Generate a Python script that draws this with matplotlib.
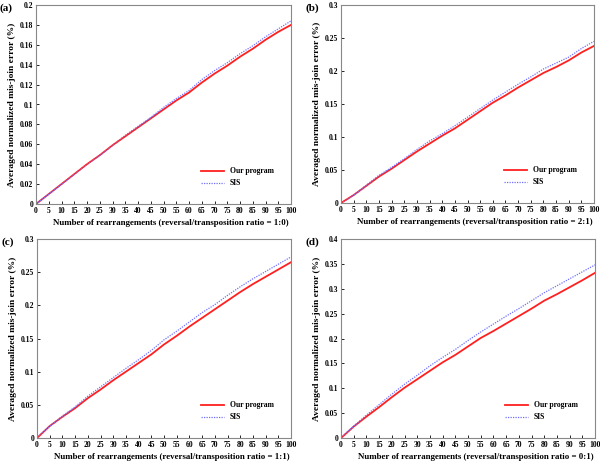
import matplotlib.pyplot as plt
import numpy as np
from matplotlib.ticker import FuncFormatter

plt.rcParams['font.family'] = ['Liberation Serif', 'DejaVu Serif']
plt.rcParams['font.weight'] = 'bold'

x = list(range(0, 101, 5))

# panel (a) ratio 1:0
ours_a = [0, 0.010, 0.020, 0.030, 0.040, 0.049, 0.059, 0.068, 0.077, 0.086, 0.095,
          0.104, 0.112, 0.122, 0.131, 0.139, 0.148, 0.156, 0.165, 0.173, 0.180]
sis_a = [0, 0.010, 0.020, 0.030, 0.040, 0.049, 0.059, 0.069, 0.078, 0.087, 0.097,
         0.106, 0.114, 0.125, 0.134, 0.142, 0.151, 0.159, 0.168, 0.176, 0.184]
# panel (b) ratio 2:1
ours_b = [0, 0.012, 0.026, 0.040, 0.052, 0.065, 0.078, 0.090, 0.102, 0.113, 0.126,
          0.139, 0.152, 0.163, 0.175, 0.186, 0.197, 0.206, 0.216, 0.228, 0.238]
sis_b = [0, 0.012, 0.027, 0.042, 0.054, 0.067, 0.081, 0.094, 0.105, 0.117, 0.130,
         0.143, 0.156, 0.168, 0.180, 0.191, 0.203, 0.212, 0.221, 0.234, 0.245]
# panel (c) ratio 1:1
ours_c = [0, 0.018, 0.032, 0.045, 0.060, 0.073, 0.087, 0.100, 0.113, 0.126, 0.141,
          0.154, 0.168, 0.181, 0.194, 0.207, 0.220, 0.232, 0.243, 0.254, 0.265]
sis_c = [0, 0.018, 0.033, 0.047, 0.063, 0.077, 0.091, 0.105, 0.118, 0.132, 0.148,
         0.161, 0.175, 0.189, 0.201, 0.215, 0.228, 0.240, 0.251, 0.262, 0.273]
# panel (d) ratio 0:1
ours_d = [0, 0.023, 0.043, 0.062, 0.082, 0.101, 0.118, 0.135, 0.152, 0.167, 0.184,
          0.201, 0.215, 0.230, 0.245, 0.260, 0.276, 0.289, 0.303, 0.317, 0.332]
sis_d = [0, 0.024, 0.046, 0.067, 0.088, 0.108, 0.126, 0.145, 0.162, 0.178, 0.196,
         0.213, 0.229, 0.245, 0.260, 0.276, 0.292, 0.306, 0.320, 0.334, 0.348]

panels = [
    ('(a)', '1:0', ours_a, sis_a, 0.2, 0.02, (36, 5, 291, 204)),
    ('(b)', '2:1', ours_b, sis_b, 0.3, 0.05, (341, 5, 594, 203)),
    ('(c)', '1:1', ours_c, sis_c, 0.3, 0.05, (37, 239, 291, 438)),
    ('(d)', '0:1', ours_d, sis_d, 0.4, 0.05, (341, 239, 595, 438)),
]

W, H = 600, 461
fig = plt.figure(figsize=(6, 4.61), dpi=100)

for letter, ratio, ours, sis, ymax, ystep, (l, t, r, b) in panels:
    ax = fig.add_axes([l / W, 1 - b / H, (r - l) / W, (b - t) / H])
    ax.plot(x, ours, color='#ff1f1f', lw=1.3, label='Our program')
    ax.plot(x, sis, color='#7070ff', lw=0.9, ls=(0, (1, 1)), label='SIS')
    ax.set_xlim(0, 100)
    ax.set_ylim(0, ymax)
    ax.set_xticks(range(0, 101, 5))
    ax.set_yticks(np.arange(0, ymax + ystep / 2, ystep))
    ax.yaxis.set_major_formatter(FuncFormatter(lambda v, p: '%g' % round(v, 3)))
    ax.tick_params(labelsize=5.5, length=2, width=0.6, direction='in', pad=2)
    for s in ax.spines.values():
        s.set_color('#888888')
        s.set_linewidth(0.8)
    ax.set_xlabel('Number of rearrangements (reversal/transposition ratio = %s)' % ratio,
                  fontsize=6.4, fontweight='bold', labelpad=2)
    ax.xaxis.set_label_coords(0.53, -0.075)
    ax.set_ylabel('Averaged normalized mis-join error (%)', fontsize=6.8,
                  fontweight='bold', labelpad=3)
    ax.legend(loc='lower right', bbox_to_anchor=(0.96, 0.05), frameon=False,
              fontsize=5.5, handlelength=3, labelspacing=0.5)
    fig.text((l - 36) / W, 1 - (t + 3) / H, letter, fontsize=8,
             fontweight='bold', va='center', ha='left')

fig.savefig('out.png', dpi=100)
